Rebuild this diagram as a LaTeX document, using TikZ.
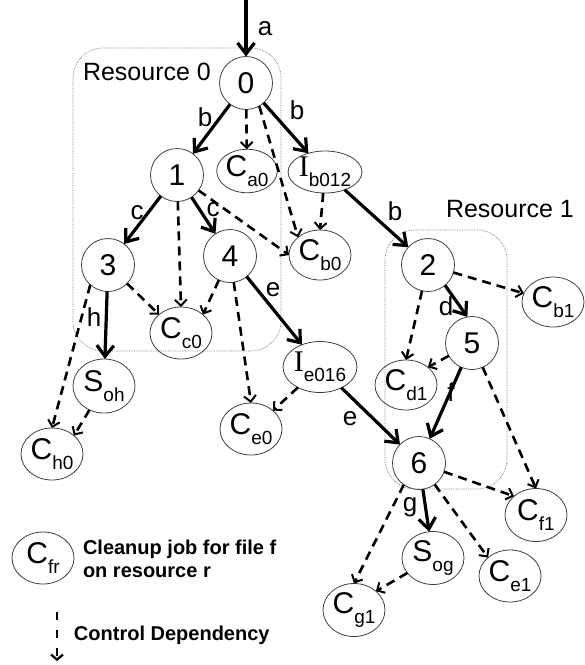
\documentclass[tikz,border=0pt]{standalone}
\usepackage{fontspec}
\setmainfont{Liberation Sans}
\newfontfamily\serifI{Liberation Serif}
\usetikzlibrary{shapes.geometric,arrows.meta}
\newcommand\sbs[1]{\raisebox{-0.32em}{\fontsize{19}{19}\selectfont #1}}
\newcommand\Ilet{{\serifI I}}
\begin{document}
\begin{tikzpicture}[x=1pt,y=-1pt,
  every node/.style={inner sep=0pt, outer sep=0pt},
  job/.style={ellipse, draw=black!75, line width=0.8pt, minimum width=53, minimum height=53, font=\fontsize{30}{32}\selectfont},
  cjob/.style={job, minimum width=62, minimum height=52},
  flow/.style={line width=3.2pt, -{Straight Barb[length=11pt,width=17pt,line width=3.2pt]}},
  ctrl/.style={line width=2.6pt, dash pattern=on 9pt off 6pt, -{Straight Barb[length=6pt,width=12pt,line width=2pt]}},
  elab/.style={font=\fontsize{26}{28}\selectfont},
  resbox/.style={draw=black!55, densely dotted, line width=0.7pt, rounded corners=30pt},
  reslab/.style={font=\fontsize{25}{27}\selectfont, anchor=west},
  legtext/.style={font=\bfseries\fontsize{20}{23}\selectfont, anchor=west, align=left}
]
\useasboundingbox (0,0) rectangle (585,665);
% resource boxes
\draw[resbox] (73,48) rectangle (281,351);
\draw[resbox] (385,230) rectangle (507,489);
\node[reslab] (r0) at (83,72) {Resource 0};
\node[reslab] (r1) at (446,209) {Resource 1};
% nodes
\coordinate (in) at (246,0);
\node[job] (n0) at (246,83) {0};
\node[job] (n1) at (177,175) {1};
\node[cjob, minimum width=52, minimum height=39] (ca0) at (247,171) {C\sbs{a0}};
\node[cjob, minimum width=56, minimum height=42] (ib012) at (325,172) {\Ilet\sbs{b012}};
\node[job] (n3) at (108,265) {3};
\node[job] (n4) at (230,256) {4};
\node[cjob, minimum height=50] (cb0) at (320,255) {C\sbs{b0}};
\node[cjob] (cc0) at (181,333) {C\sbs{c0}};
\node[cjob, minimum height=54] (soh) at (104,386) {S\sbs{oh}};
\node[cjob] (ch0) at (52,454) {C\sbs{h0}};
\node[cjob] (ce0) at (251,429) {C\sbs{e0}};
\node[cjob, minimum width=63, minimum height=51] (ie016) at (320,367) {\Ilet\sbs{e016}};
\node[job] (n2) at (428,265) {2};
\node[cjob, minimum height=50] (cb1) at (553,302) {C\sbs{b1}};
\node[job] (n5) at (472,343) {5};
\node[cjob, minimum height=50] (cd1) at (406,385) {C\sbs{d1}};
\node[job] (n6) at (419,463) {6};
\node[cjob, minimum height=53] (cf1) at (536,515) {C\sbs{f1}};
\node[cjob, minimum height=53] (sog) at (433,558) {S\sbs{og}};
\node[cjob] (ce1) at (510,576) {C\sbs{e1}};
\node[cjob, minimum height=53] (cg1) at (354,610) {C\sbs{g1}};
% solid flow edges
\draw[flow] (in) -- (n0);
\draw[flow] (n0) -- (n1);
\draw[flow] (n0) -- (ib012);
\draw[flow] (n1) -- (n3);
\draw[flow] (n1) -- (n4);
\draw[flow] (n3) -- (soh);
\draw[flow] (n4) -- (ie016);
\draw[flow] (ib012) -- (n2);
\draw[flow] (n2.-50) -- (n5.100);
\draw[flow] (n5) -- (n6);
\draw[flow] (ie016) -- (n6);
\draw[flow] (n6) -- (sog);
% control dependencies
\draw[ctrl] (n0) -- (ca0);
\draw[ctrl] (n0.-60) -- (cb0.north west);
\draw[ctrl] (n1) -- (cb0.west);
\draw[ctrl] (ib012) -- (cb0.north);
\draw[ctrl] (n1) -- (cc0.north);
\draw[ctrl] (n3) -- (cc0.north west);
\draw[ctrl] (n4) -- (cc0.north east);
\draw[ctrl] (n3.228) -- (ch0.north);
\draw[ctrl] (soh) -- (ch0.north east);
\draw[ctrl] (n4) -- (ce0.north);
\draw[ctrl] (ie016) -- (ce0.north east);
\draw[ctrl] (n2) -- (cb1);
\draw[ctrl] (n2) -- (cd1.north);
\draw[ctrl] (n5) -- (cd1.north east);
\draw[ctrl] (n5) -- (cf1.north);
\draw[ctrl] (n6) -- (cf1.north west);
\draw[ctrl] (n6.235) -- (cg1.north);
\draw[ctrl] (sog) -- (cg1.north east);
\draw[ctrl] (n6) -- (ce1.north west);
% edge labels
\node[elab] (la) at (265,29) {a};
\node[elab] (lb1) at (205,117) {b};
\node[elab] (lb2) at (297,110) {b};
\node[elab] (lc1) at (137,213) {c};
\node[elab] (lc2) at (213,210) {c};
\node[elab] (lh) at (94,317) {h};
\node[elab] (le1) at (273,290) {e};
\node[elab] (lb3) at (395,211) {b};
\node[elab] (ld) at (446,306) {d};
\node[elab] (lf) at (451,392) {f};
\node[elab] (le2) at (350,419) {e};
\node[elab] (lg) at (410,507) {g};
% legend
\node[cjob] (cfr) at (43,558) {C\sbs{fr}};
\node[legtext] (lt1) at (83,559) {Cleanup job for file f\\on resource r};
\coordinate (ls) at (57,612);
\coordinate (le) at (57,661);
\draw[line width=2.6pt, dash pattern=on 8pt off 10pt, -{Straight Barb[length=5pt,width=12pt,line width=2.2pt]}] (ls) -- (le);
\node[legtext] (lt2) at (74,635) {Control Dependency};
\end{tikzpicture}
\end{document}
